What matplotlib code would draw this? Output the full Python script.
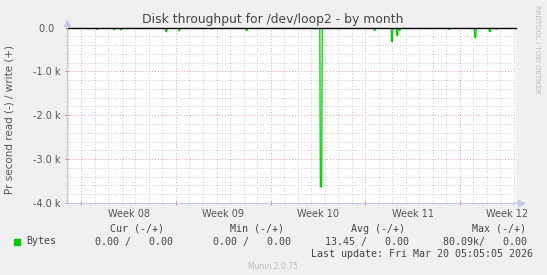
import numpy as np
import matplotlib
matplotlib.use('Agg')
import matplotlib.pyplot as plt
from matplotlib.lines import Line2D

W, H = 547, 275

# days relative to Monday of week 08 (Feb 16 2026)
x_lo, x_hi = -1.08, 32.15
week_starts = [0, 7, 14, 21, 28]
week_labels = ['Week 08', 'Week 09', 'Week 10', 'Week 11', 'Week 12']

y_ticks = [0, -1000, -2000, -3000, -4000]
y_labels = ['0.0  ', '-1.0 k', '-2.0 k', '-3.0 k', '-4.0 k']

# read spikes (bytes/s, negative = read)
spike_day = [0.50, 1.16, 1.73, 2.44, 2.94, 3.43, 4.62, 6.29, 7.25, 10.04,
             10.26, 12.23, 17.29, 17.73, 18.62, 19.07, 21.70, 22.98, 23.37,
             23.55, 27.20, 29.14, 30.21, 30.70]
spike_val = [-30, -40, -20, -45, -50, -25, -25, -95, -75, -20,
             -20, -70, -30, -3630, -25, -25, -60, -320, -185,
             -60, -40, -230, -95, -35]

green = '#00cc00'
axcol = '#c4c8e4'
txt = '#555555'


def fp(x, y):
    return x / W, 1 - y / H


fig = plt.figure(figsize=(W / 100, H / 100), dpi=100, facecolor='#f0f0f0')
ax = fig.add_axes([66.7 / W, 1 - 203 / H, (516 - 66.7) / W, (203 - 27.5) / H])
ax.set_facecolor('white')

# build the read line from the spikes
t = [x_lo]
v = [0]
for d, val in zip(spike_day, spike_val):
    w = 0.05 if val < -1000 else 0.03
    t += [d - w - 0.04, d - w, d + w, d + w + 0.04]
    v += [0, val, val, 0]
t.append(x_hi)
v.append(0)
ax.plot(t, v, color=green, lw=0.9, zorder=3)
ax.plot([x_lo, x_hi], [0, 0], color='black', lw=1.0, zorder=4, clip_on=False)

ax.set_xlim(x_lo, x_hi)
ax.set_ylim(-4000, 0)
ax.set_xticks(week_starts)
ax.set_xticks(np.arange(-1, 33), minor=True)
ax.set_xticklabels([])
ax.set_yticks(y_ticks)
ax.set_yticks(np.arange(-4000, 1, 200), minor=True)
ax.set_yticklabels(y_labels, fontsize=7, color=txt)

ax.grid(which='major', color='#e8a0a0', ls=(0, (1, 2)), lw=0.7)
ax.grid(which='minor', color='#c8c8c8', ls=(0, (1, 2)), lw=0.7)
ax.tick_params(which='major', color='#e07070', length=3, width=0.7, direction='inout', pad=3)
ax.tick_params(which='minor', color='#bbbbbb', length=2, width=0.6, direction='inout')

for s in ['top', 'right']:
    ax.spines[s].set_visible(False)
for s in ['left', 'bottom']:
    ax.spines[s].set_color(axcol)
    ax.spines[s].set_linewidth(0.8)

# axis arrows
fig.add_artist(Line2D([66.7 / W, 66.7 / W], [1 - 27.5 / H, 1 - 22 / H], color=axcol, lw=0.8))
fig.add_artist(Line2D([66.7 / W], [1 - 23 / H], marker='^', color=axcol, markersize=4, lw=0))
fig.add_artist(Line2D([516 / W, 521 / W], [1 - 203 / H, 1 - 203 / H], color=axcol, lw=0.8))
fig.add_artist(Line2D([521 / W], [1 - 203 / H], marker='>', color=axcol, markersize=4, lw=0))

for d, lab in zip(week_starts, week_labels):
    ax.text(d + 3.5, -0.06, lab, transform=ax.get_xaxis_transform(),
            ha='center', va='center', fontsize=7, color=txt, clip_on=False)

fig.text(*fp(273, 19), 'Disk throughput for /dev/loop2 - by month', ha='center', va='center',
         fontsize=8.9, color='#444444')
fig.text(*fp(10, 119), 'Pr second read (-) / write (+)', rotation=90, ha='center', va='center',
         fontsize=7.5, color=txt)
fig.text(*fp(537, 5), 'RRDTOOL / TOBI OETIKER', rotation=270, ha='center', va='top',
         fontsize=5, color='#bbbbbb')

mono = dict(family='DejaVu Sans Mono', fontsize=7.2, color='#444444', va='center')
for lab, xe in zip(['Cur (-/+)', 'Min (-/+)', 'Avg (-/+)', 'Max (-/+)'], [164, 284.4, 404.7, 526.2]):
    fig.text(*fp(xe, 228.6), lab, ha='right', **mono)
fig.add_artist(Line2D([16.6 / W], [1 - 241.5 / H], marker='s', color=green, markersize=4.5, lw=0))
fig.text(*fp(26.2, 241.5), 'Bytes', ha='left', **mono)
for lab, xe in zip(['0.00 /   0.00', '0.00 /   0.00', '13.45 /   0.00', '80.09k/   0.00'],
                   [173.4, 291.3, 409, 526.9]):
    fig.text(*fp(xe, 241.5), lab, ha='right', **mono)
fig.text(*fp(532.8, 254), 'Last update: Fri Mar 20 05:05:05 2026', ha='right', **mono)
fig.text(*fp(272.9, 266.3), 'Munin 2.0.75', ha='center', va='center', fontsize=5.5, color='#bbbbbb')

fig.savefig('out.png', dpi=100, facecolor=fig.get_facecolor())
